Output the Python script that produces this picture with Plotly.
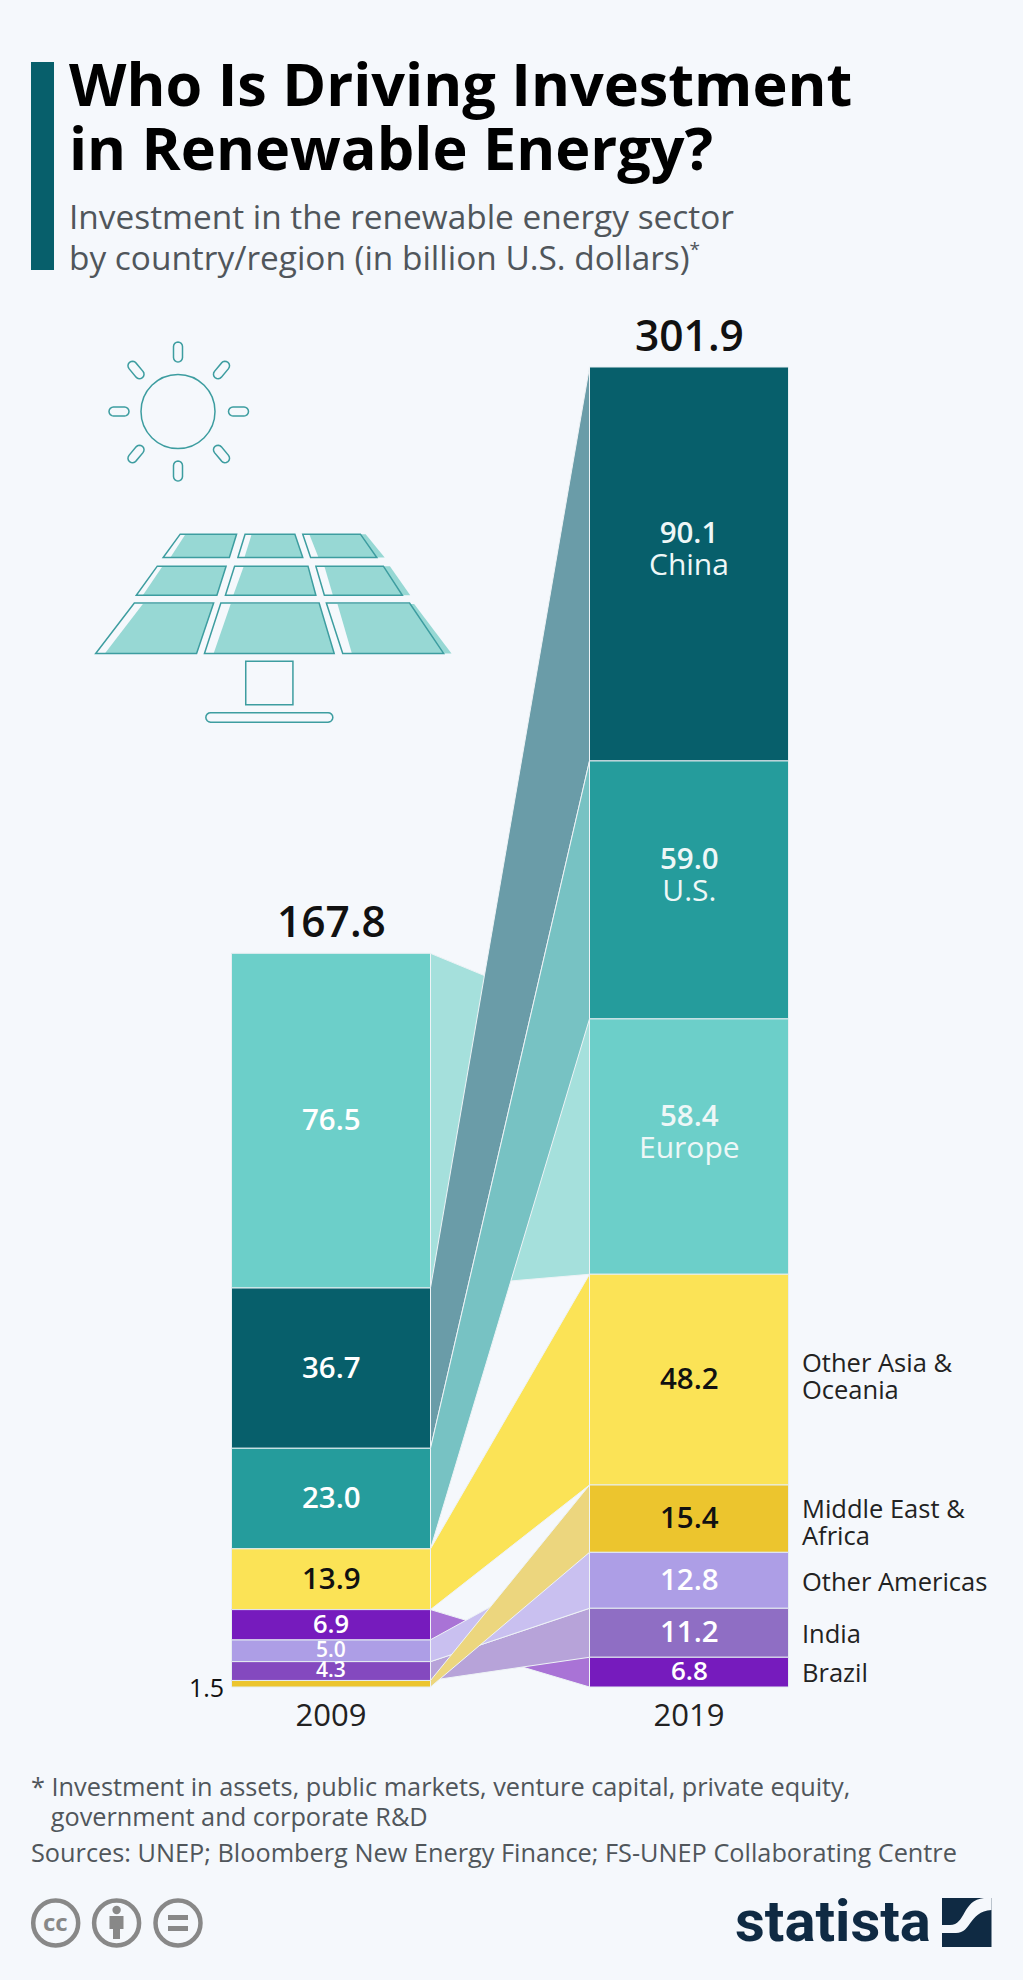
import math
import numpy as np
import plotly.graph_objects as go

W, H = 1023, 1980
BG = "#f5f8fc"

# ---------- data ----------
years = ["2009", "2019"]
regions = ["China", "U.S.", "Europe", "Other Asia & Oceania", "Middle East & Africa",
           "Other Americas", "India", "Brazil"]
values_2009 = [36.7, 23.0, 76.5, 13.9, 1.5, 5.0, 4.3, 6.9]
values_2019 = [90.1, 59.0, 58.4, 48.2, 15.4, 12.8, 11.2, 6.8]
# stacking order, bottom to top
order_2009 = ["Middle East & Africa", "India", "Other Americas", "Brazil",
              "Other Asia & Oceania", "U.S.", "China", "Europe"]
order_2019 = ["Brazil", "India", "Other Americas", "Middle East & Africa",
              "Other Asia & Oceania", "Europe", "U.S.", "China"]
totals = [167.8, 301.9]

bar_colors_2009 = ["#075f6b", "#259c9c", "#6ccfc9", "#fbe356", "#ecc52e", "#ad9ee6", "#8449bf", "#761bbd"]
bar_colors_2019 = ["#075f6b", "#259c9c", "#6ccfc9", "#fbe356", "#ecc52e", "#ad9ee6", "#8f6ec4", "#761bbd"]
band_colors = ["#6a9ca8", "#77c2c3", "#a5e0dc", "#fbe356", "#ecd67e", "#c9c0f0", "#b7a3d9", "#a973d6"]
label_colors = ["white", "white", "white", "#111111", "#111111", "white", "white", "white"]
band_draw_order = ["Brazil", "Europe", "China", "U.S.", "Other Asia & Oceania",
                   "India", "Other Americas", "Middle East & Africa"]

# ---------- scales ----------
PX_PER_X = 358.0           # px between the two column centres
X0_PX = 331.0              # px of the 2009 column centre
Y0_PX = 1687.0             # px of the baseline
PX_PER_Y = 1320.0 / 301.9
BAR_W = 199.0 / PX_PER_X

xr = [(0 - X0_PX) / PX_PER_X, (W - X0_PX) / PX_PER_X]
yr = [(Y0_PX - H) / PX_PER_Y, Y0_PX / PX_PER_Y]


def fx(px):
    return px / W


def fy(py):
    return 1 - py / H


def stack(order, values):
    base, b = {}, 0.0
    for name in order:
        base[name] = b
        b += values[regions.index(name)]
    return base


base09 = stack(order_2009, values_2009)
base19 = stack(order_2019, values_2019)

fig = go.Figure()

# bars
for i, r in enumerate(regions):
    fig.add_trace(go.Bar(
        x=[0, 1], y=[values_2009[i], values_2019[i]], base=[base09[r], base19[r]],
        width=BAR_W, name=r, showlegend=False, hoverinfo="skip",
        marker=dict(color=[bar_colors_2009[i], bar_colors_2019[i]],
                    line=dict(color="#e6eef2", width=1))))

# connecting bands
xl, xr_ = BAR_W / 2, 1 - BAR_W / 2
for r in band_draw_order:
    i = regions.index(r)
    a0, a1 = base09[r], base09[r] + values_2009[i]
    b0, b1 = base19[r], base19[r] + values_2019[i]
    fig.add_trace(go.Scatter(
        x=[xl, xr_, xr_, xl, xl], y=[a0, b0, b1, a1, a0], mode="lines", fill="toself",
        fillcolor=band_colors[i], line=dict(color="#eef3f6", width=1),
        showlegend=False, hoverinfo="skip"))

ann = []


def text(px, py, s, size, color="#111111", weight=400, anchor="left", leading=None):
    """Page-positioned text. For multi-line text, `leading` sets the line pitch in px
    (plotly uses 1.3 x the annotation font size) while spans keep the glyph size."""
    if leading:
        base = leading / 1.3
        s = "<br>".join(f'<span style="font-size:{size}px">{ln}</span>' for ln in s.split("<br>"))
    else:
        base = size
    ann.append(dict(x=fx(px), y=fy(py), xref="paper", yref="paper", text=s, showarrow=False,
                    xanchor=anchor, yanchor="middle", align=anchor, borderpad=0,
                    font=dict(family="Open Sans", size=base, color=color, weight=weight)))


def value_label(col, y, s, size, color, yshift=2, weight=600):
    ann.append(dict(x=col, y=y, xref="x", yref="y", text=s, showarrow=False,
                    xanchor="center", yanchor="middle", yshift=yshift, borderpad=0,
                    font=dict(family="Open Sans", size=size, color=color, weight=weight)))


# value labels in the bars
small_2009 = {"Brazil": 25.5, "Other Americas": 21, "India": 21}
for i, r in enumerate(regions):
    if r != "Middle East & Africa":
        value_label(0, base09[r] + values_2009[i] / 2, f"{values_2009[i]:.1f}",
                    small_2009.get(r, 29.5), label_colors[i])
    inner_name = r in ("China", "U.S.", "Europe")
    ymid = base19[r] + values_2019[i] / 2
    sz = 26 if r == "Brazil" else 29.5
    if inner_name:
        s = (f'<span style="font-size:29.5px;font-weight:600">{values_2019[i]:.1f}</span><br>'
             f'<span style="font-size:30px;font-weight:400">{r}</span>')
        value_label(1, ymid, s, 32 / 1.3, "#eef7f7", yshift=16, weight=400)
    else:
        value_label(1, ymid, f"{values_2019[i]:.1f}", sz, label_colors[i])

# totals
for c, t in enumerate(totals):
    value_label(c, t, f"{t:.1f}", 42.5, "#111111", yshift=33, weight=600)

# small 2009 label beside the bar
text(225, 1687, f"{values_2009[regions.index('Middle East & Africa')]:.1f}", 25, anchor="right")

# region labels at the right
text(801, 1375, "Other Asia &amp;<br>Oceania", 25.5, "#222222", leading=27)
text(801, 1521, "Middle East &amp;<br>Africa", 25.5, "#222222", leading=27)
text(801, 1581, "Other Americas", 25.5, "#222222")
text(801, 1633, "India", 25.5, "#222222")
text(801, 1672, "Brazil", 25.5, "#222222")

# title block
text(68, 115, "Who Is Driving Investment<br>in Renewable Energy?", 59.4, "#000000", 700, leading=64)
text(68, 236.5, 'Investment in the renewable energy sector<br>by country/region (in billion U.S. dollars)'
     '<sup><span style="font-size:19px">*</span></sup>',
     33.4, "#50565b", leading=41)

# footer
text(30, 1801, "* Investment in assets, public markets, venture capital, private equity,<br>"
     "&#160;&#160;&#160;government and corporate R&amp;D", 25.3, "#50565b", leading=30)
text(30, 1852, "Sources: UNEP; Bloomberg New Energy Finance; FS-UNEP Collaborating Centre", 25.3, "#50565b")

ann.append(dict(x=fx(833), y=fy(1921), xref="paper", yref="paper", text="statista", showarrow=False,
                xanchor="center", yanchor="middle", borderpad=0,
                font=dict(family="Roboto", size=58, color="#0f2a43", weight=700)))
text(55.7, 1921, "cc", 24, "#888888", 700, anchor="center")

# ---------- decoration shapes (page pixels) ----------
shapes = []


def path(points, close=True, fill=None, line=None, lw=1.5):
    d = "M " + " L ".join(f"{fx(a):.5f},{fy(b):.5f}" for a, b in points) + (" Z" if close else "")
    shapes.append(dict(type="path", xref="paper", yref="paper", path=d,
                       fillcolor=fill or "rgba(0,0,0,0)",
                       line=dict(color=line or "rgba(0,0,0,0)", width=lw if line else 0)))


def zoom_pt(x, y):
    return x / 1.526, y / 2.063


def circle(cx, cy, r, fill=None, line=None, lw=1.5):
    shapes.append(dict(type="circle", xref="paper", yref="paper",
                       x0=fx(cx - r), x1=fx(cx + r), y0=fy(cy + r), y1=fy(cy - r),
                       fillcolor=fill or "rgba(0,0,0,0)",
                       line=dict(color=line or "rgba(0,0,0,0)", width=lw if line else 0)))


def capsule(cx, cy, length, width, angle, fill=None, line="#3d9da0", lw=1.5):
    a = math.radians(angle)
    ux, uy = math.cos(a), math.sin(a)
    r = width / 2
    h = length / 2 - r
    pts = []
    for sgn, start in ((1, angle - 90), (-1, angle + 90)):
        for t in np.linspace(0, 180, 9):
            th = math.radians(start + t)
            pts.append((cx + sgn * h * ux + r * math.cos(th), cy + sgn * h * uy + r * math.sin(th)))
    path(pts, fill=fill, line=line, lw=lw)


TEAL = "#3d9da0"
PANEL = "#97d8d4"

# title bar
path([(31, 62), (54, 62), (54, 270), (31, 270)], fill="#075f6b")

# sun
circle(178, 411.5, 37, line=TEAL)
for cx, cy, ang in [(178, 352, 90), (178, 471, 90), (119, 411.5, 0), (238.5, 411.5, 0),
                    (136, 370, 50), (221.5, 370, 130), (136, 454, 130), (221.5, 454, 50)]:
    capsule(cx, cy, 20, 9, ang)

# solar panel: shaded fill first, then outline
fills = [
    [(218, 1246), (326, 1246), (300, 1348), (160, 1348)],
    [(352, 1246), (487, 1246), (510, 1348), (326, 1348)],
    [(515, 1246), (632, 1246), (689, 1348), (537, 1348)],
    [(248, 1168), (345, 1168), (331, 1228), (218, 1228)],
    [(372, 1168), (470, 1168), (482, 1228), (356, 1228)],
    [(495, 1168), (595, 1168), (626, 1228), (508, 1228)],
    [(283, 1102), (361, 1102), (350, 1150), (260, 1150)],
    [(384, 1102), (450, 1102), (462, 1150), (373, 1150)],
    [(472, 1102), (558, 1102), (587, 1150), (486, 1150)],
]
outlines = [
    [(205, 1244), (326, 1244), (300, 1348), (146, 1348)],
    [(337, 1244), (487, 1244), (510, 1348), (312, 1348)],
    [(498, 1244), (625, 1244), (677, 1348), (523, 1348)],
    [(240, 1168), (345, 1168), (331, 1228), (208, 1228)],
    [(358, 1168), (470, 1168), (482, 1228), (344, 1228)],
    [(482, 1168), (585, 1168), (614, 1228), (495, 1228)],
    [(275, 1102), (361, 1102), (350, 1150), (249, 1150)],
    [(374, 1102), (450, 1102), (462, 1150), (363, 1150)],
    [(462, 1102), (550, 1102), (575, 1150), (474, 1150)],
]
for p in fills:
    path([zoom_pt(*q) for q in p], fill=PANEL)
for p in outlines:
    path([zoom_pt(*q) for q in p], line=TEAL)
path([zoom_pt(375, 1364), zoom_pt(447, 1364), zoom_pt(447, 1454), zoom_pt(375, 1454)], line=TEAL)
capsule(*zoom_pt(411, 1480), 127, 9.5, 0)

# licence icons
RING = "#888888"
for cx in (55.7, 116.6, 178.0):
    circle(cx, 1923, 22.5, line=RING, lw=4.5)
circle(116.6, 1910, 4.2, fill=RING)
path([(109.5, 1916), (123.5, 1916), (123.5, 1929), (120, 1929), (120, 1939), (113, 1939), (113, 1929), (109.5, 1929)],
     fill=RING)
path([(168, 1915), (188, 1915), (188, 1920), (168, 1920)], fill=RING)
path([(168, 1926), (188, 1926), (188, 1931), (168, 1931)], fill=RING)

# statista mark
NAVY = "#0f2a43"
path([(942, 1898), (991.5, 1898), (991.5, 1947), (942, 1947)], fill=NAVY)
shapes.append(dict(type="path", xref="paper", yref="paper", fillcolor=BG, line=dict(width=0),
                   path=(f"M {fx(942)},{fy(1933)} L {fx(956)},{fy(1933)} "
                         f"C {fx(972)},{fy(1933)} {fx(968)},{fy(1912)} {fx(991.5)},{fy(1910)} "
                         f"L {fx(991.5)},{fy(1898)} L {fx(984)},{fy(1898)} "
                         f"C {fx(962)},{fy(1900)} {fx(966)},{fy(1925)} {fx(950)},{fy(1925)} "
                         f"L {fx(942)},{fy(1925)} Z")))

fig.update_layout(
    width=W, height=H, margin=dict(l=0, r=0, t=0, b=0),
    paper_bgcolor=BG, plot_bgcolor="rgba(0,0,0,0)",
    barmode="overlay", showlegend=False, annotations=ann, shapes=shapes,
    font=dict(family="Open Sans"),
    xaxis=dict(range=xr, domain=[0, 1], anchor="free", position=(H - Y0_PX) / H,
               tickmode="array", tickvals=[0, 1], ticktext=years,
               tickfont=dict(family="Open Sans", size=31, color="#222222"),
               ticks="outside", ticklen=1, tickcolor="rgba(0,0,0,0)",
               showgrid=False, zeroline=False, showline=False, fixedrange=True),
    yaxis=dict(range=yr, domain=[0, 1], visible=False, fixedrange=True),
)

fig.write_html("out.html", config={"displayModeBar": False},
               post_script="document.body.style.margin='0';document.body.style.overflow='hidden';")
